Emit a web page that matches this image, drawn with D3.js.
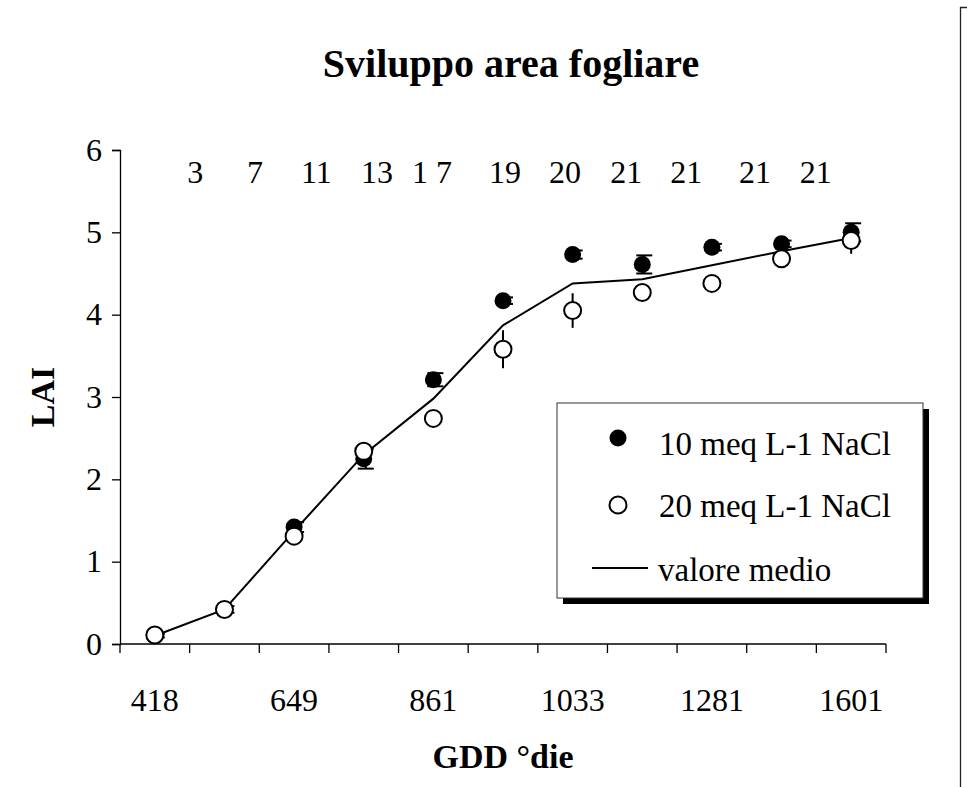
<!DOCTYPE html>
<html>
<head>
<meta charset="utf-8">
<script src="https://cdn.jsdelivr.net/npm/d3@7"></script>
<style>
  html, body { margin: 0; padding: 0; background: #fff; }
  svg { display: block; }
  text { font-family: "Liberation Serif", "Times New Roman", serif; fill: #000; }
</style>
</head>
<body>
<svg id="chart" width="967" height="787"></svg>
<script>
// Sampling dates (11 samplings) and the GDD labels shown under the axis
const samplings = ["S1", "S2", "S3", "S4", "S5", "S6", "S7", "S8", "S9", "S10", "S11"];
const gddLabels = ["418", "", "649", "", "861", "", "1033", "", "1281", "", "1601"];

// LAI for the two salinity treatments, with their error half-widths
const lai10 = [0.10, 0.42, 1.42, 2.25, 3.21, 4.17, 4.73, 4.61, 4.82, 4.86, 5.00];
const err10 = [0.02, 0.04, 0.06, 0.12, 0.08, 0.04, 0.05, 0.11, 0.04, 0.04, 0.11];
const lai20 = [0.11, 0.42, 1.31, 2.34, 2.74, 3.58, 4.05, 4.27, 4.38, 4.68, 4.90];
const err20 = [0.03, 0.04, 0.03, 0.03, 0.03, 0.23, 0.21, 0.03, 0.03, 0.03, 0.16];
// Mean of the two treatments
const laiMean = [0.10, 0.42, 1.37, 2.30, 2.98, 3.87, 4.38, 4.43, 4.60, 4.77, 4.93];

// Counts written above the curve, placed along the x axis (in sampling units)
const noteText = ["3", "7", "11", "13", "1 7", "19", "20", "21", "21", "21", "21"];
const noteAt = [1.08, 1.94, 2.82, 3.69, 4.48, 5.53, 6.39, 7.27, 8.13, 9.12, 9.99];

const yTicks = [0, 1, 2, 3, 4, 5, 6];

const svg = d3.select("#chart");
svg.append("rect").attr("width", 967).attr("height", 787).attr("fill", "#fff");

const plot = { left: 120, right: 886, top: 150, bottom: 644 };

const x = d3.scaleBand().domain(samplings).range([plot.left, plot.right]).padding(0);
const xCont = d3.scaleLinear().domain([0, samplings.length]).range([plot.left, plot.right]);
const y = d3.scaleLinear().domain([0, 6]).range([plot.bottom, plot.top]);
const cx = s => x(s) + x.bandwidth() / 2;

// Title
svg.append("text")
  .attr("x", 511).attr("y", 77)
  .attr("text-anchor", "middle")
  .attr("font-size", 40).attr("font-weight", "bold")
  .text("Sviluppo area fogliare");

// Y axis
const yAxis = d3.axisLeft(y).tickValues(yTicks).tickSize(8).tickPadding(10).tickFormat(d3.format("d"));
const gy = svg.append("g").attr("transform", `translate(${plot.left},0)`).call(yAxis);
gy.select(".domain").attr("stroke", "#000").attr("stroke-width", 1.3);
gy.selectAll(".tick line").attr("stroke", "#000").attr("stroke-width", 1.3);
gy.selectAll(".tick text").attr("font-size", 32).attr("font-family", "Liberation Serif").attr("fill", "#000");

// X axis: ticks at sampling boundaries, labels at every other sampling
const gx = svg.append("g").attr("transform", `translate(0,${plot.bottom})`);
gx.append("line")
  .attr("x1", plot.left).attr("x2", plot.right)
  .attr("stroke", "#000").attr("stroke-width", 1.3);
gx.selectAll("line.tk")
  .data(d3.range(samplings.length + 1))
  .join("line").attr("class", "tk")
  .attr("x1", d => xCont(d)).attr("x2", d => xCont(d))
  .attr("y1", 0).attr("y2", 9)
  .attr("stroke", "#000").attr("stroke-width", 1.3);
gx.selectAll("text.lbl")
  .data(samplings.map((s, i) => ({ s, label: gddLabels[i] })).filter(d => d.label))
  .join("text").attr("class", "lbl")
  .attr("x", d => cx(d.s)).attr("y", 67)
  .attr("text-anchor", "middle").attr("font-size", 32)
  .text(d => d.label);

// Axis titles
svg.append("text")
  .attr("transform", `translate(54,${(plot.top + plot.bottom) / 2}) rotate(-90)`)
  .attr("text-anchor", "middle")
  .attr("font-size", 34).attr("font-weight", "bold")
  .text("LAI");
svg.append("text")
  .attr("x", 503).attr("y", 768)
  .attr("text-anchor", "middle")
  .attr("font-size", 34).attr("font-weight", "bold")
  .text("GDD °die");

// Counts along the top
svg.append("g").selectAll("text")
  .data(noteText.map((t, i) => ({ t, at: noteAt[i] })))
  .join("text")
  .attr("x", d => xCont(d.at)).attr("y", 183)
  .attr("text-anchor", "middle").attr("font-size", 32)
  .text(d => d.t);

// Mean line
const line = d3.line().x((d, i) => cx(samplings[i])).y(d => y(d));
svg.append("path")
  .datum(laiMean)
  .attr("d", line)
  .attr("fill", "none").attr("stroke", "#000").attr("stroke-width", 2);

const R = 8.5;
const capOff = 2;

// 10 meq series: error bars with caps, filled markers
const g10 = svg.append("g");
const d10 = samplings.map((s, i) => ({ s, v: lai10[i], e: err10[i] }));
g10.selectAll("line.eb").data(d10).join("line").attr("class", "eb")
  .attr("x1", d => cx(d.s) + capOff).attr("x2", d => cx(d.s) + capOff)
  .attr("y1", d => y(d.v + d.e)).attr("y2", d => y(d.v - d.e))
  .attr("stroke", "#000").attr("stroke-width", 2);
[1, -1].forEach(sign => {
  g10.selectAll(`line.cap${sign}`).data(d10).join("line").attr("class", `cap${sign}`)
    .attr("x1", d => cx(d.s) + capOff - 8).attr("x2", d => cx(d.s) + capOff + 8)
    .attr("y1", d => y(d.v + sign * d.e)).attr("y2", d => y(d.v + sign * d.e))
    .attr("stroke", "#000").attr("stroke-width", 2);
});
g10.selectAll("circle").data(d10).join("circle")
  .attr("cx", d => cx(d.s)).attr("cy", d => y(d.v)).attr("r", R)
  .attr("fill", "#000");

// 20 meq series: plain error bars, open markers
const g20 = svg.append("g");
const d20 = samplings.map((s, i) => ({ s, v: lai20[i], e: err20[i] }));
g20.selectAll("line.eb").data(d20).join("line").attr("class", "eb")
  .attr("x1", d => cx(d.s)).attr("x2", d => cx(d.s))
  .attr("y1", d => y(d.v + d.e)).attr("y2", d => y(d.v - d.e))
  .attr("stroke", "#000").attr("stroke-width", 2);
g20.selectAll("circle").data(d20).join("circle")
  .attr("cx", d => cx(d.s)).attr("cy", d => y(d.v)).attr("r", R)
  .attr("fill", "#fff").attr("stroke", "#000").attr("stroke-width", 2);

// Legend with drop shadow
const lg = svg.append("g").attr("transform", "translate(557,403)");
const lw = 366, lh = 195;
lg.append("rect").attr("x", 6).attr("y", 6).attr("width", lw).attr("height", lh).attr("fill", "#000");
lg.append("rect").attr("x", 0).attr("y", 0).attr("width", lw).attr("height", lh)
  .attr("fill", "#fff").attr("stroke", "#333").attr("stroke-width", 1);
lg.append("circle").attr("cx", 61).attr("cy", 35).attr("r", R).attr("fill", "#000");
lg.append("text").attr("x", 102).attr("y", 52).attr("font-size", 33).text("10 meq L-1 NaCl");
lg.append("circle").attr("cx", 61).attr("cy", 102).attr("r", R)
  .attr("fill", "#fff").attr("stroke", "#000").attr("stroke-width", 2);
lg.append("text").attr("x", 102).attr("y", 114).attr("font-size", 33).text("20 meq L-1 NaCl");
lg.append("line").attr("x1", 35).attr("x2", 91).attr("y1", 165).attr("y2", 165)
  .attr("stroke", "#000").attr("stroke-width", 2);
lg.append("text").attr("x", 101).attr("y", 178).attr("font-size", 33).text("valore medio");

// Frame edge on the right
svg.append("path")
  .attr("d", "M967,7.5 H960.5 V787")
  .attr("fill", "none").attr("stroke", "#222").attr("stroke-width", 1.3);
</script>
</body>
</html>
